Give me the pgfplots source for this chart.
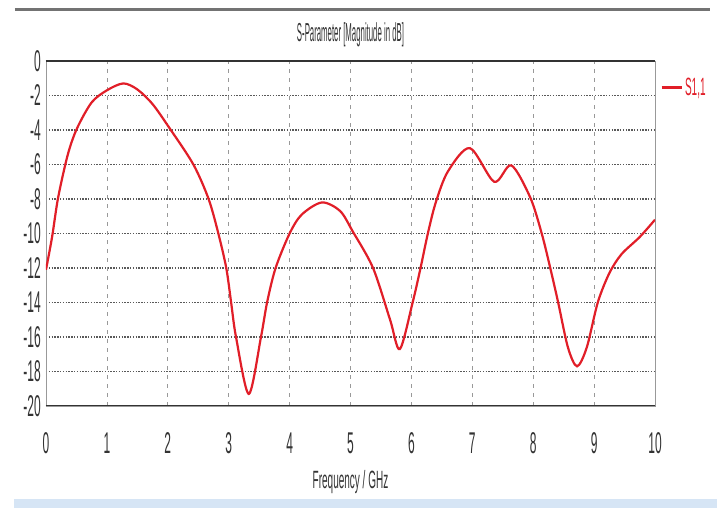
\documentclass[border=0pt]{standalone}
\usepackage{fontspec}
\usepackage{pgfplots}
\pgfplotsset{compat=1.18}
\setmainfont{Liberation Sans}
\newfontfamily\tickfont[FakeStretch=0.40]{Liberation Sans}
\newfontfamily\titlefont[FakeStretch=0.30]{Liberation Sans}
\newfontfamily\labelfont[FakeStretch=0.40]{Liberation Sans}
\definecolor{curvered}{RGB}{225,30,40}
\definecolor{barblue}{RGB}{214,229,245}
\begin{document}
\begin{tikzpicture}
\useasboundingbox (-46pt,-102pt) rectangle (671pt,406pt);
\fill[white] (-46pt,-102pt) rectangle (671pt,406pt);
\draw[line width=3pt, black!55] (-31pt,396pt) -- (664pt,396pt);
\fill[barblue] (-32pt,-102pt) rectangle (671pt,-93pt);
\begin{axis}[
  at={(0pt,0pt)}, anchor=south west,
  scale only axis, width=609pt, height=345pt,
  xmin=0, xmax=10, ymin=-20, ymax=0,
  xtick={0,1,...,10},
  ytick={-20,-18,...,0},
  yticklabels={{-20},{-18},{-16},{-14},{-12},{-10},{-8},{-6},{-4},{-2},{0}},
  xticklabels={0,1,2,3,4,5,6,7,8,9,10},
  tick style={draw=none},
  xticklabel style={font=\tickfont\fontsize{30}{32}\selectfont, text=black!80, inner sep=0pt, anchor=base, yshift=-47pt},
  yticklabel style={font=\tickfont\fontsize{30}{32}\selectfont, text=black!80, inner sep=0pt, anchor=east, xshift=-5pt},
  axis line style={draw=black!40, line width=0.8pt},
  xmajorgrids, ymajorgrids,
  major x grid style={draw=black!40, line width=0.8pt, dash pattern=on 4pt off 5pt},
  major y grid style={draw=black!65, line width=1.6pt, dash pattern=on 1.4pt off 1.4pt},
  title={S-Parameter [Magnitude in dB]},
  title style={font=\titlefont\fontsize{26}{30}\selectfont, text=black!80, inner sep=0pt, at={(axis description cs:0.5,1)}, anchor=base, yshift=13pt},
  xlabel={Frequency / GHz},
  xlabel style={font=\labelfont\fontsize{25}{30}\selectfont, text=black!80, inner sep=0pt, at={(axis description cs:0.5,0)}, anchor=base, yshift=-82pt},
  legend style={at={(axis description cs:1.008,0.922)}, anchor=west, draw=none, fill=none,
    font=\labelfont\fontsize{25}{30}\selectfont, text=curvered, inner sep=0pt},
  legend image code/.code={\draw[#1, line width=3pt] (0pt,0pt) -- (20pt,0pt);},
  legend cell align=left,
]
\addplot[curvered, line width=2.2pt, smooth, tension=0.5] coordinates {
(0,-12.1) (0.1,-10.2) (0.2,-7.9) (0.36,-5.4) (0.51,-3.9) (0.75,-2.4)
(1.0,-1.7) (1.27,-1.3) (1.5,-1.65) (1.75,-2.5) (2.03,-3.9) (2.42,-6.0)
(2.67,-8.0) (2.83,-10.0) (2.96,-12.0) (3.04,-14.0) (3.12,-16.0)
(3.33,-19.3) (3.53,-16.0) (3.63,-14.0)
(3.77,-12.0) (4.0,-10.0) (4.2,-8.9) (4.53,-8.2) (4.83,-8.7)
(5.04,-9.9) (5.37,-12.0) (5.65,-15.0) (5.81,-16.7) (6.02,-14.0)
(6.15,-12.0) (6.27,-10.0) (6.4,-8.2) (6.6,-6.4) (6.96,-5.05)
(7.36,-7.0) (7.64,-6.05) (7.95,-7.9) (8.14,-10.0) (8.28,-12.0)
(8.41,-14.0) (8.57,-16.6) (8.72,-17.7) (8.88,-16.6) (9.06,-14.0)
(9.25,-12.3) (9.45,-11.2) (9.75,-10.2) (10,-9.2)
};
\addlegendentry{S1,1}
\draw[black!80, line width=2.5pt] (rel axis cs:0,0) -- (rel axis cs:1,0);
\draw[black!80, line width=2.5pt] (rel axis cs:0,1) -- (rel axis cs:1,1);
\end{axis}
\end{tikzpicture}
\end{document}
